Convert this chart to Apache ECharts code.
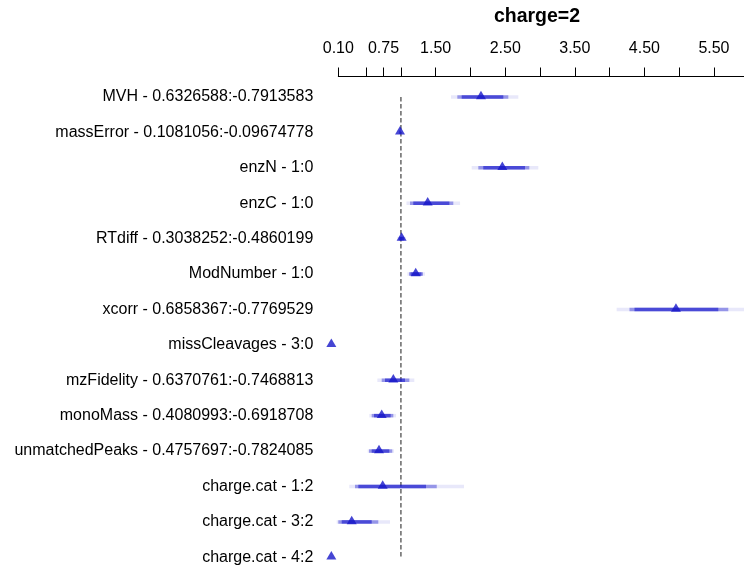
<!DOCTYPE html>
<html>
<head>
<meta charset="utf-8">
<script src="https://cdn.jsdelivr.net/npm/echarts@6/dist/echarts.min.js"></script>
<style>html,body{margin:0;padding:0;background:#fff}#c{width:744px;height:575px}</style>
</head>
<body>
<div id="c"></div>
<script>
const labels = [
  "MVH - 0.6326588:-0.7913583",
  "massError - 0.1081056:-0.09674778",
  "enzN - 1:0",
  "enzC - 1:0",
  "RTdiff - 0.3038252:-0.4860199",
  "ModNumber - 1:0",
  "xcorr - 0.6858367:-0.7769529",
  "missCleavages - 3:0",
  "mzFidelity - 0.6370761:-0.7468813",
  "monoMass - 0.4080993:-0.6918708",
  "unmatchedPeaks - 0.4757697:-0.7824085",
  "charge.cat - 1:2",
  "charge.cat - 3:2",
  "charge.cat - 4:2"
];
const estimate = [2.151, 0.987, 2.458, 1.385, 1.01, 1.213, 4.954, 0.0, 0.891, 0.724, 0.685, 0.738, 0.293, 0.0];
const lo99 = [1.720, 0.975, 2.018, 1.080, 0.950, 1.092, 4.102, null, 0.661, 0.546, 0.523, 0.258, 0.077, null];
const hi99 = [2.688, 1.000, 2.975, 1.850, 1.070, 1.346, 6.000, null, 1.193, 0.930, 0.901, 1.907, 0.843, null];
const lo95 = [1.811, 0.978, 2.113, 1.131, 0.970, 1.116, 4.286, null, 0.724, 0.580, 0.541, 0.340, 0.100, null];
const hi95 = [2.544, 0.998, 2.846, 1.753, 1.050, 1.318, 5.706, null, 1.121, 0.891, 0.876, 1.515, 0.675, null];
const lo90 = [1.874, 0.980, 2.184, 1.178, 0.980, 1.138, 4.358, null, 0.771, 0.613, 0.580, 0.388, 0.149, null];
const hi90 = [2.472, 0.995, 2.784, 1.696, 1.040, 1.296, 5.562, null, 1.059, 0.853, 0.833, 1.361, 0.580, null];
const tickValues = [0.1, 0.5, 0.75, 1, 1.5, 2, 2.5, 3, 3.5, 4, 4.5, 5, 5.5];
const tickLabels = [0.1, 0.75, 1.5, 2.5, 3.5, 4.5, 5.5];
const refValue = 1;

function intervalSeries(lo, hi, color) {
  const data = [];
  lo.forEach((l, i) => { if (l != null) data.push([l, hi[i], i]); });
  return {
    type: 'custom',
    clip: false,
    silent: true,
    encode: { x: [0, 1], y: 2 },
    data: data,
    renderItem: function (params, api) {
      const p1 = api.coord([api.value(0), api.value(2)]);
      const p2 = api.coord([api.value(1), api.value(2)]);
      return {
        type: 'line',
        shape: { x1: p1[0], y1: p1[1], x2: p2[0], y2: p2[1] },
        style: { stroke: color, lineWidth: 3.5 }
      };
    }
  };
}

const chart = echarts.init(document.getElementById('c'), null, { renderer: 'canvas' });
chart.setOption({
  animation: false,
  backgroundColor: '#fff',
  textStyle: { fontFamily: 'Liberation Sans, Arial, sans-serif' },
  graphic: [{
    type: 'text', x: 537, y: 17,
    style: { text: 'charge=2', font: 'bold 19.5px "Liberation Sans", Arial, sans-serif', fill: '#000', textAlign: 'center', textVerticalAlign: 'middle' }
  }],
  grid: { left: 338.3, right: 0, top: 79.25, height: 497, containLabel: false },
  xAxis: {
    type: 'value', position: 'top', offset: 3.25,
    min: 0.1, max: 5.932,
    axisLine: { show: true, lineStyle: { color: '#000', width: 1 } },
    axisTick: { show: true, customValues: tickValues, length: 8.5, inside: false, lineStyle: { color: '#000', width: 1 } },
    axisLabel: { customValues: tickLabels, formatter: v => Number(v).toFixed(2), fontSize: 16, color: '#000', margin: 19, fontFamily: 'Liberation Sans, Arial, sans-serif' },
    splitLine: { show: false }
  },
  yAxis: {
    type: 'category', inverse: true, data: labels,
    axisLine: { show: false }, axisTick: { show: false }, splitLine: { show: false },
    axisLabel: { fontSize: 16, color: '#000', margin: 25, padding: [3, 0, 0, 0], fontFamily: 'Liberation Sans, Arial, sans-serif' }
  },
  series: [
    intervalSeries(lo99, hi99, 'rgba(25,25,204,0.1)'),
    intervalSeries(lo95, hi95, 'rgba(25,25,204,0.4)'),
    intervalSeries(lo90, hi90, 'rgba(25,25,204,0.6)'),
    {
      type: 'line', silent: true, symbol: 'none',
      data: [[refValue, 0], [refValue, labels.length - 1]],
      lineStyle: { color: '#666666', width: 1.5, type: [4.5, 2.5] },
      z: 1
    },
    {
      type: 'scatter', clip: false, silent: true,
      symbol: 'triangle', symbolSize: [10, 8.5], symbolOffset: [0, -2],
      itemStyle: { color: '#1616c8' },
      data: estimate.map((v, i) => [v, i]),
      z: 5
    }
  ]
});
</script>
</body>
</html>
